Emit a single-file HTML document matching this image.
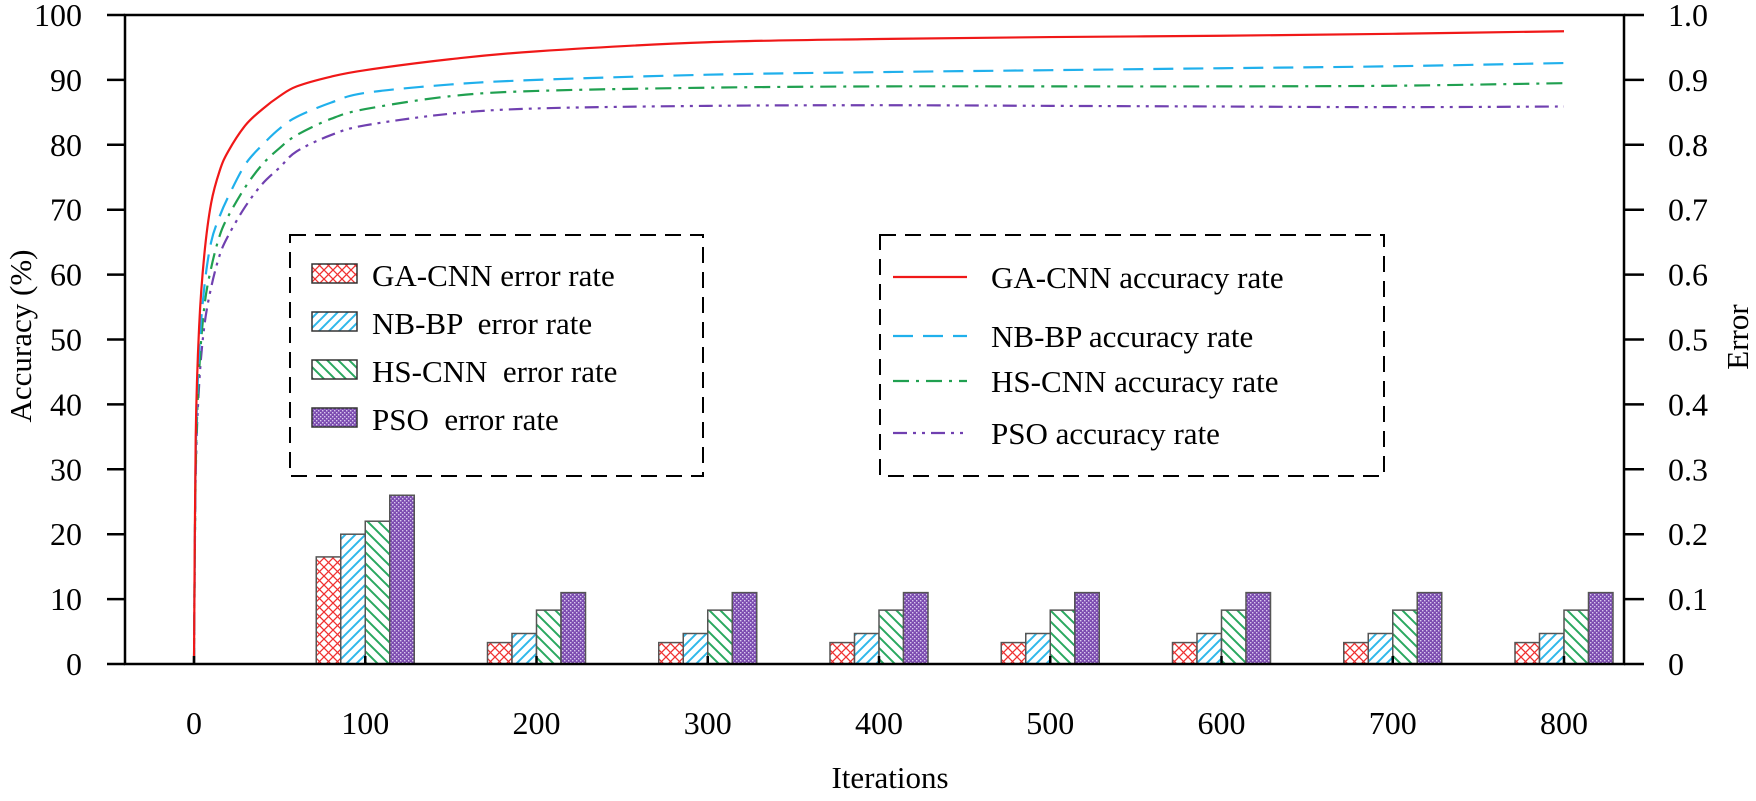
<!DOCTYPE html>
<html><head><meta charset="utf-8"><style>
html,body{margin:0;padding:0;background:#fff}
svg{display:block}
text{font-family:"Liberation Serif",serif;fill:#000}
</style></head><body>
<svg id="chart" width="1756" height="801" viewBox="0 0 1756 801" xmlns="http://www.w3.org/2000/svg">
<defs>
<pattern id="pRed" width="9" height="9" patternUnits="userSpaceOnUse"><rect width="9" height="9" fill="#fff"/><path d="M0,0L9,9M9,0L0,9" stroke="#f03030" stroke-width="1.3"/></pattern>
<pattern id="pBlue" width="10" height="10" patternUnits="userSpaceOnUse"><rect width="10" height="10" fill="#fff"/><path d="M-2,12L12,-2M-2,2L2,-2M8,12L12,8" stroke="#30b8ea" stroke-width="2"/></pattern>
<pattern id="pGreen" width="11" height="11" patternUnits="userSpaceOnUse"><rect width="11" height="11" fill="#fff"/><path d="M-2,-2L13,13M-2,9L2,13M9,-2L13,2" stroke="#2aa860" stroke-width="2"/></pattern>
<pattern id="pPurple" width="4" height="4" patternUnits="userSpaceOnUse"><rect width="4" height="4" fill="#7c4cb0"/><rect x="0" y="0" width="1.4" height="1.4" fill="#d8c8ee"/><rect x="2" y="2" width="1.4" height="1.4" fill="#d8c8ee"/></pattern>
</defs>
<g id="plot"></g>
</svg>
<script>
const iterTicks=[0,100,200,300,400,500,600,700,800];
const accTicks=[0,10,20,30,40,50,60,70,80,90,100];
const errTicks=["0","0.1","0.2","0.3","0.4","0.5","0.6","0.7","0.8","0.9","1.0"];
const curveIters=[0,1,3,6,10,15,20,30,40,50,60,80,100,150,200,300,400,500,600,700,800];
const gaAcc=[0,35,52,63,71,76,79,83,85.5,87.5,89,90.5,91.5,93.2,94.4,95.8,96.3,96.6,96.8,97.1,97.5];
const nbAcc=[0,32,48,58,65,69,72,77,80,82.5,84.3,86.5,88,89.3,90,90.8,91.2,91.5,91.8,92.1,92.6];
const hsAcc=[0,30,45,55,61,66,69,73.5,77,79.5,81.5,84,85.5,87.5,88.3,88.8,89,89,89,89.1,89.5];
const psoAcc=[0,29,43,52,58,63,66,70.5,74,76.5,79,81.5,83,84.8,85.6,86,86.1,86,85.9,85.8,85.9];
const barIters=[100,200,300,400,500,600,700,800];
const gaErr=[0.165,0.033,0.033,0.033,0.033,0.033,0.033,0.033];
const nbErr=[0.20,0.047,0.047,0.047,0.047,0.047,0.047,0.047];
const hsErr=[0.22,0.083,0.083,0.083,0.083,0.083,0.083,0.083];
const psoErr=[0.26,0.11,0.11,0.11,0.11,0.11,0.11,0.11];

const NS="http://www.w3.org/2000/svg";
const g=document.getElementById('plot');
const L=125,R=1624,T=15,B=664;
const x=v=>194+v*(1564-194)/800;
const yA=v=>B-v*(B-T)/100;
const yE=v=>B-v*(B-T)/1;
function el(tag,attrs,parent){const e=document.createElementNS(NS,tag);for(const k in attrs)e.setAttribute(k,attrs[k]);(parent||g).appendChild(e);return e;}

const barSeries=[[gaErr,'url(#pRed)','ga-cnn-error'],[nbErr,'url(#pBlue)','nb-bp-error'],[hsErr,'url(#pGreen)','hs-cnn-error'],[psoErr,'url(#pPurple)','pso-error']];
const bw=24.5;
barSeries.forEach((s,si)=>{
  barIters.forEach((it,i)=>{
    const x0=x(it)-2*bw+si*bw;
    const r=el('rect',{x:x0,y:yE(s[0][i]),width:bw,height:B-yE(s[0][i]),fill:s[1],stroke:'#555','stroke-width':1.5});
    
    
  });
});

function smoothPath(xs,ys){
  const p=xs.map((v,i)=>[x(v),yA(ys[i])]);
  let d='M'+p[0][0]+','+p[0][1];
  for(let i=0;i<p.length-1;i++){
    const p0=p[Math.max(0,i-1)],p1=p[i],p2=p[i+1],p3=p[Math.min(p.length-1,i+2)];
    const c1=[p1[0]+(p2[0]-p0[0])/6,p1[1]+(p2[1]-p0[1])/6];
    const c2=[p2[0]-(p3[0]-p1[0])/6,p2[1]-(p3[1]-p1[1])/6];
    d+='C'+c1[0]+','+c1[1]+' '+c2[0]+','+c2[1]+' '+p2[0]+','+p2[1];
  }
  return d;
}
const curves=[[psoAcc,'#7040b0','14,6,3,6,3,6','pso-accuracy-line'],[hsAcc,'#20a050','16,7,3,7','hs-cnn-accuracy-line'],[nbAcc,'#20b0ec','20,10','nb-bp-accuracy-line'],[gaAcc,'#f01818','','ga-cnn-accuracy-line']];
curves.forEach(c=>{
  const p=el('path',{d:smoothPath(curveIters,c[0]),fill:'none',stroke:c[1],'stroke-width':2.2,'stroke-dasharray':c[2]||'none'});
  
  
});

const fr=el('rect',{x:L,y:T,width:R-L,height:B-T,fill:'none',stroke:'#000','stroke-width':2.5});



accTicks.forEach(v=>{
  el('line',{x1:L-18,x2:L,y1:yA(v),y2:yA(v),stroke:'#000','stroke-width':2.5});
  const t=el('text',{x:82,y:yA(v)+11,'text-anchor':'end','font-size':32});
  t.textContent=v;
  
  
});
errTicks.forEach((v,i)=>{
  const yy=yE(i/10);
  el('line',{x1:R,x2:R+20,y1:yy,y2:yy,stroke:'#000','stroke-width':2.5});
  const t=el('text',{x:1668,y:yy+11,'text-anchor':'start','font-size':32});
  t.textContent=v;
  
  
});
iterTicks.forEach(v=>{
  el('line',{x1:x(v),x2:x(v),y1:B,y2:B-8,stroke:'#000','stroke-width':2.5});
  const t=el('text',{x:x(v),y:734,'text-anchor':'middle','font-size':32});
  t.textContent=v;
  
  
});
let t=el('text',{x:890,y:788,'text-anchor':'middle','font-size':31});
t.textContent='Iterations';


t=el('text',{x:0,y:0,'text-anchor':'middle','font-size':31,transform:'translate(31,336) rotate(-90)'});
t.textContent='Accuracy (%)';


t=el('text',{x:0,y:0,'text-anchor':'middle','font-size':31,transform:'translate(1748,337) rotate(-90)'});
t.textContent='Error';



const lg1=el('g',{});


el('rect',{x:290,y:235,width:413,height:241,fill:'#fff',stroke:'#000','stroke-width':2,'stroke-dasharray':'16,9'},lg1);
const l1=[['url(#pRed)','GA-CNN error rate'],['url(#pBlue)','NB-BP  error rate'],['url(#pGreen)','HS-CNN  error rate'],['url(#pPurple)','PSO  error rate']];
l1.forEach((e,i)=>{
  const yy=264+i*48;
  const r=el('rect',{x:312,y:yy,width:45,height:19,fill:e[0],stroke:'#333','stroke-width':1.5},lg1);
  
  
  const tt=el('text',{x:372,y:yy+22,'font-size':31},lg1);
  tt.setAttribute('style','white-space:pre');
  tt.textContent=e[1];
  
  
});
const lg2=el('g',{});


el('rect',{x:880,y:235,width:504,height:241,fill:'#fff',stroke:'#000','stroke-width':2,'stroke-dasharray':'16,9'},lg2);
const l2=[['#f01818','','GA-CNN accuracy rate',277],['#20b0ec','20,10','NB-BP accuracy rate',336],['#20a050','16,7,3,7','HS-CNN accuracy rate',381],['#7040b0','14,6,3,6,3,6','PSO accuracy rate',433]];
l2.forEach(e=>{
  const ln=el('line',{x1:893,x2:967,y1:e[3],y2:e[3],stroke:e[0],'stroke-width':2.2,'stroke-dasharray':e[1]||'none'},lg2);
  
  
  const tt=el('text',{x:991,y:e[3]+11,'font-size':31},lg2);
  tt.textContent=e[2];
  
  
});
</script>
</body></html>
